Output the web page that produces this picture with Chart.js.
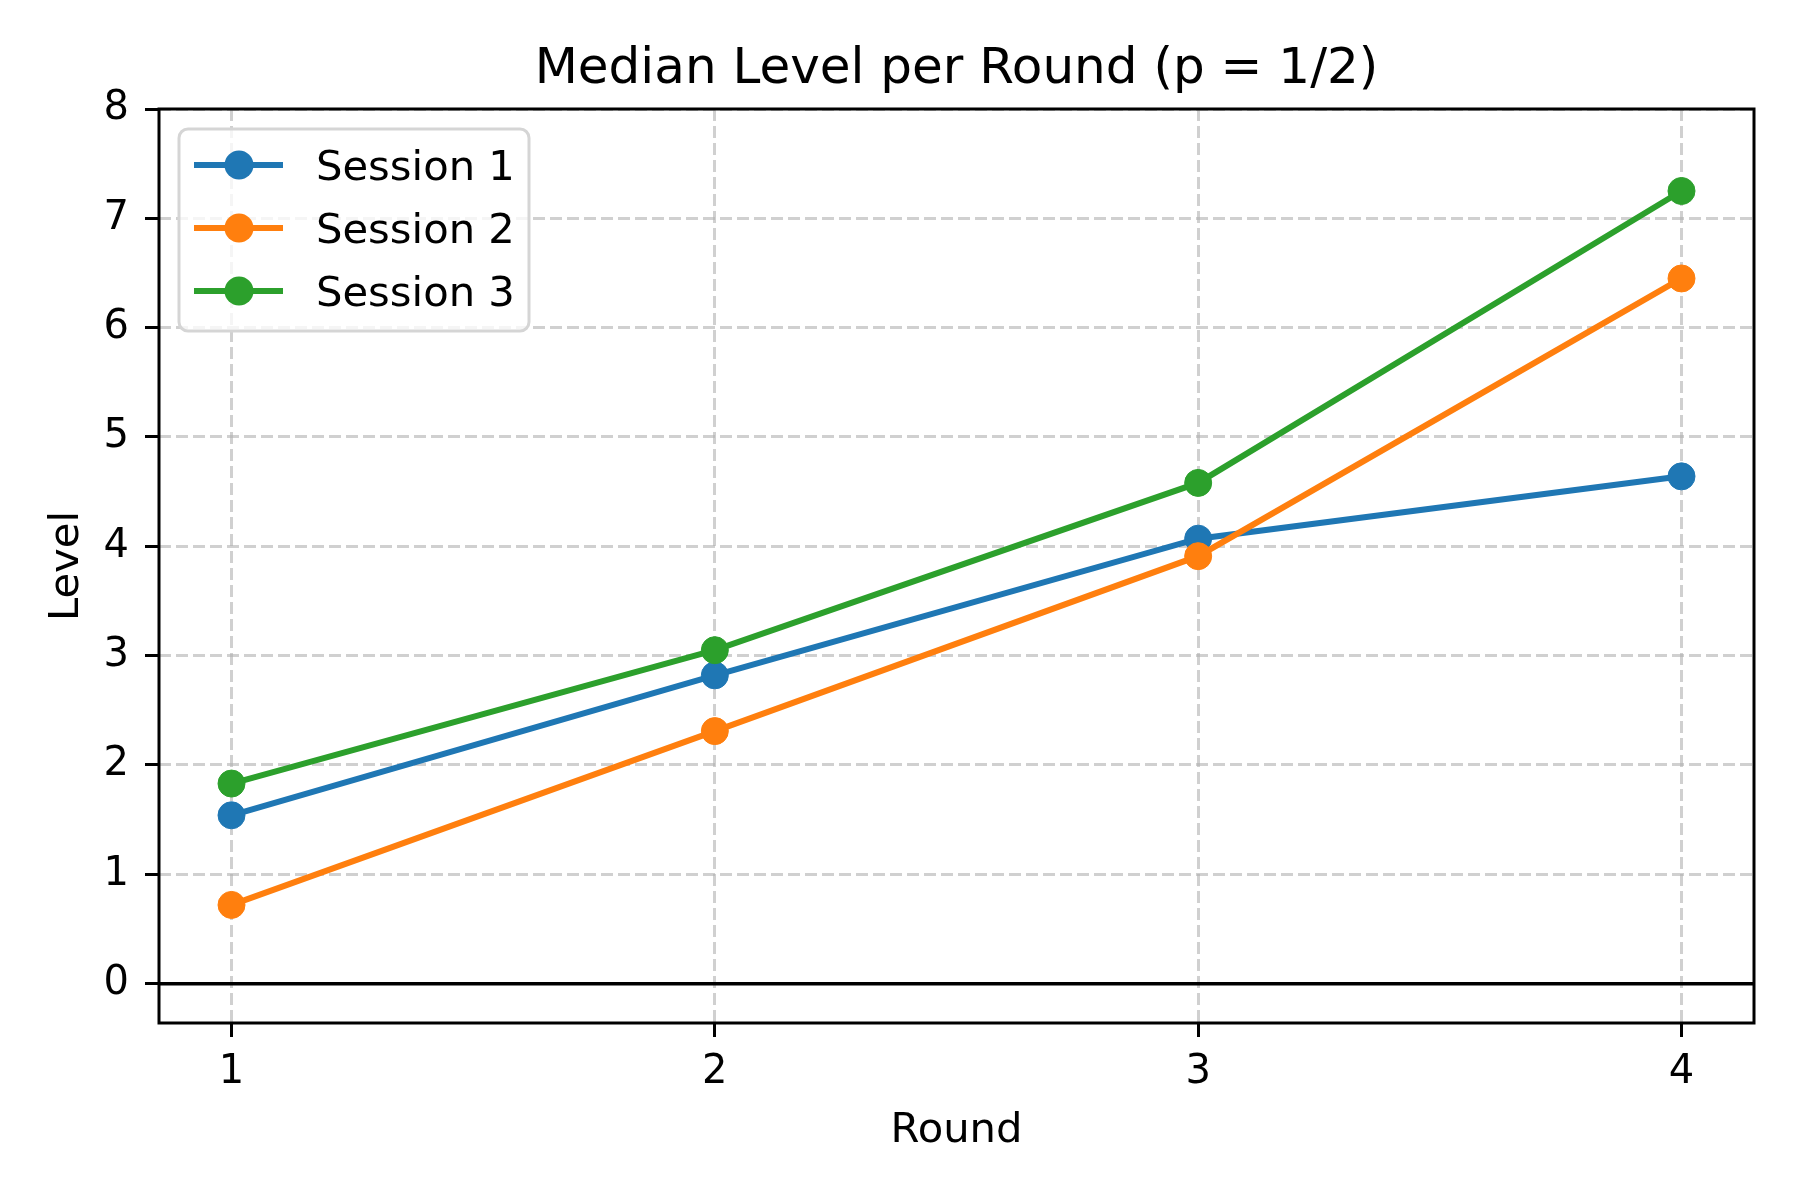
<!DOCTYPE html>
<html>
<head>
<meta charset="utf-8">
<title>Median Level per Round</title>
<script src="https://cdn.jsdelivr.net/npm/chart.js@4.4.1/dist/chart.umd.min.js"></script>
<style>
  html, body { margin: 0; padding: 0; background: #fff; }
  canvas { display: block; }
</style>
</head>
<body>
<canvas id="chart" width="1800" height="1200"></canvas>
<script>
/* Data */
const rounds = [1, 2, 3, 4];
const session1 = [1.54, 2.82, 4.07, 4.64];
const session2 = [0.72, 2.31, 3.91, 6.45];
const session3 = [1.83, 3.05, 4.58, 7.25];
const seriesLabels = ['Session 1', 'Session 2', 'Session 3'];
const seriesColors = ['#1f77b4', '#ff7f0e', '#2ca02c'];
const yTicks = [0, 1, 2, 3, 4, 5, 6, 7, 8];

const FONT = "'DejaVu Sans', sans-serif";

// build {x, y} points for the linear x axis
function toPoints(values) {
  return rounds.map((r, i) => ({ x: r, y: values[i] }));
}

// title, zero line, full box and the in-plot legend
const decorPlugin = {
  id: 'decor',
  beforeDatasetsDraw(chart) {
    const { ctx, chartArea, scales } = chart;
    // horizontal line at y = 0
    const y0 = scales.y.getPixelForValue(0);
    ctx.save();
    ctx.strokeStyle = '#000';
    ctx.lineWidth = 3.5;
    ctx.beginPath();
    ctx.moveTo(chartArea.left, y0);
    ctx.lineTo(chartArea.right, y0);
    ctx.stroke();
    ctx.restore();
  },
  afterDraw(chart) {
    const { ctx, chartArea } = chart;
    ctx.save();

    // axes box
    ctx.strokeStyle = '#000';
    ctx.lineWidth = 3;
    ctx.strokeRect(chartArea.left, chartArea.top, chartArea.right - chartArea.left, chartArea.bottom - chartArea.top);

    // title, centred over the axes
    ctx.fillStyle = '#000';
    ctx.font = '50px ' + FONT;
    ctx.textAlign = 'center';
    ctx.textBaseline = 'alphabetic';
    ctx.fillText('Median Level per Round (p = 1/2)', (chartArea.left + chartArea.right) / 2, 83);

    // legend
    const bx = 179, by = 129, bw = 350, bh = 202, rad = 9;
    ctx.beginPath();
    ctx.roundRect(bx, by, bw, bh, rad);
    ctx.fillStyle = 'rgba(255,255,255,0.8)';
    ctx.fill();
    ctx.strokeStyle = '#d5d5d5';
    ctx.lineWidth = 3;
    ctx.stroke();

    chart.data.datasets.forEach((ds, i) => {
      const cy = 165 + i * 63;
      ctx.strokeStyle = ds.borderColor;
      ctx.lineWidth = 6;
      ctx.beginPath();
      ctx.moveTo(194, cy);
      ctx.lineTo(283, cy);
      ctx.stroke();
      ctx.fillStyle = ds.borderColor;
      ctx.beginPath();
      ctx.arc(239, cy, 14.5, 0, Math.PI * 2);
      ctx.fill();
      ctx.fillStyle = '#000';
      ctx.font = '41.7px ' + FONT;
      ctx.textAlign = 'left';
      ctx.textBaseline = 'alphabetic';
      ctx.fillText(ds.label, 316, cy + 15);
    });

    ctx.restore();
  }
};

const allSeries = [session1, session2, session3];
const datasets = allSeries.map((values, i) => ({
  label: seriesLabels[i],
  data: toPoints(values),
  borderColor: seriesColors[i],
  backgroundColor: seriesColors[i],
  pointBackgroundColor: seriesColors[i],
  pointBorderColor: seriesColors[i],
  borderWidth: 6,
  pointRadius: 13.5,
  pointBorderWidth: 1,
  tension: 0,
  fill: false,
  order: allSeries.length - i   // later sessions on top, like the reference
}));

const gridStyle = {
  color: 'rgba(176,176,176,0.6)',
  lineWidth: 3,
  tickColor: '#000',
  tickWidth: 3,
  tickLength: 14,
  tickBorderDash: [],
  drawTicks: true
};

new Chart(document.getElementById('chart').getContext('2d'), {
  type: 'line',
  data: { datasets },
  options: {
    responsive: false,
    animation: false,
    devicePixelRatio: 1,
    layout: { padding: { top: 109, right: 46, left: 0, bottom: 0 } },
    plugins: {
      legend: { display: false },
      title: { display: false },
      tooltip: { enabled: false }
    },
    scales: {
      x: {
        type: 'linear',
        min: 0.85,
        max: 4.15,
        afterBuildTicks: (scale) => { scale.ticks = rounds.map(v => ({ value: v })); },
        afterFit: (scale) => { scale.height = 177; },
        grid: gridStyle,
        border: { display: false, dash: [12, 5] },
        ticks: {
          color: '#000',
          padding: 12,
          font: { family: FONT, size: 40 },
          callback: (v) => String(v)
        },
        title: {
          display: true,
          text: 'Round',
          color: '#000',
          font: { family: FONT, size: 41.7 },
          padding: { top: 0, bottom: 44 }
        }
      },
      y: {
        type: 'linear',
        min: -0.36,
        max: 8,
        afterBuildTicks: (scale) => { scale.ticks = yTicks.map(v => ({ value: v })); },
        afterFit: (scale) => { scale.width = 159; },
        grid: gridStyle,
        border: { display: false, dash: [12, 5] },
        ticks: {
          color: '#000',
          padding: 16,
          font: { family: FONT, size: 40 },
          callback: (v) => String(v)
        },
        title: {
          display: true,
          text: 'Level',
          color: '#000',
          font: { family: FONT, size: 41.7 },
          padding: { top: 42, bottom: 0 }
        }
      }
    }
  },
  plugins: [decorPlugin]
});
</script>
</body>
</html>
